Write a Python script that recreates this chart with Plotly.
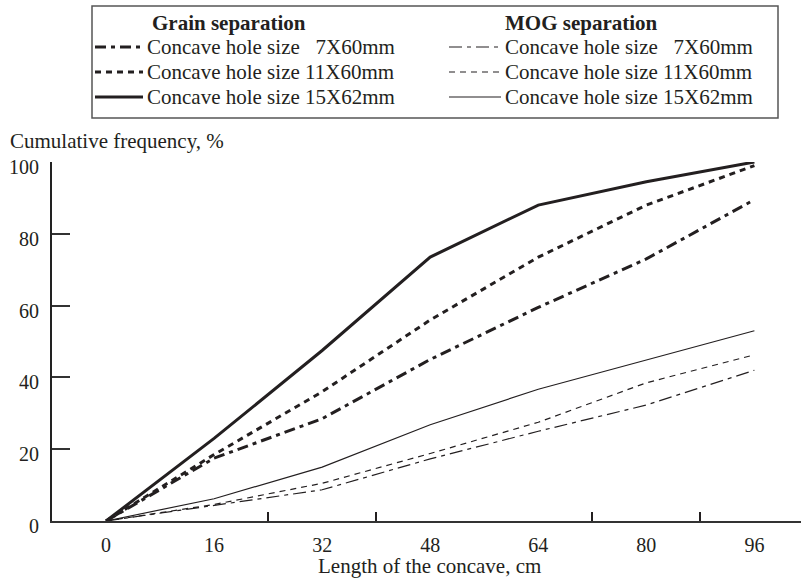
import plotly.graph_objects as go

# Length along the concave (cm) at which cumulative separation was measured
length_cm = [0, 16, 32, 48, 64, 80, 96]

# Cumulative frequency of grain separation, %
grain_7x60 = [0, 17.5, 28.5, 45.0, 59.5, 73.0, 89.5]
grain_11x60 = [0, 18.5, 36.0, 56.0, 73.5, 88.0, 99.0]
grain_15x62 = [0, 23.0, 47.5, 73.5, 88.0, 94.5, 100.0]

# Cumulative frequency of MOG separation, %
mog_7x60 = [0, 4.3, 8.7, 17.3, 25.0, 32.3, 42.0]
mog_11x60 = [0, 4.6, 10.5, 18.8, 27.5, 38.5, 46.3]
mog_15x62 = [0, 6.2, 15.0, 26.8, 36.7, 44.8, 53.0]

x_ticks = [0, 16, 32, 48, 64, 80, 96]
x_minor_ticks = [24, 40, 72, 88]
y_ticks = [0, 20, 40, 60, 80, 100]

hole_labels = ["Concave hole size\u00a0\u00a0\u00a07X60mm",
               "Concave hole size 11X60mm",
               "Concave hole size 15X62mm"]

INK = "#231f20"
FONT = "Liberation Serif"

W, H = 801, 579
ML, MR, MT, MB = 52, 0, 162, 58
PW, PH = W - ML - MR, H - MT - MB

grain_dash = ["11px,5px,4px,5px", "6px,5px", "solid"]
mog_dash = ["13px,5px,4px,5px", "6px,5px", "solid"]
grain_width, mog_width = 3.0, 1.2

fig = go.Figure()
for ys, dash in zip([grain_7x60, grain_11x60, grain_15x62], grain_dash):
    fig.add_trace(go.Scatter(x=length_cm, y=ys, mode="lines",
                             line=dict(color=INK, width=grain_width, dash=dash),
                             showlegend=False))
for ys, dash in zip([mog_7x60, mog_11x60, mog_15x62], mog_dash):
    fig.add_trace(go.Scatter(x=length_cm, y=ys, mode="lines",
                             line=dict(color=INK, width=mog_width, dash=dash),
                             showlegend=False))


def px_x(px):
    return (px - ML) / PW


def px_y(py):
    return (H - MB - py) / PH


shapes = []
annotations = []

# Legend frame
shapes.append(dict(type="rect", xref="paper", yref="paper",
                   x0=px_x(92), x1=px_x(778), y0=px_y(118), y1=px_y(6),
                   line=dict(color="#555555", width=1.5), fillcolor="rgba(0,0,0,0)"))

row_y = [47, 72, 97]
columns = [
    dict(title="<b>Grain separation</b>", title_x=150, s0=95, s1=143, tx=145,
         dashes=grain_dash, width=grain_width),
    dict(title="<b>MOG separation</b>", title_x=503, s0=449, s1=501, tx=503,
         dashes=mog_dash, width=mog_width),
]
for col in columns:
    annotations.append(dict(text=col["title"], xref="paper", yref="paper",
                            x=px_x(col["title_x"]), y=px_y(23), xanchor="left",
                            yanchor="middle", showarrow=False,
                            font=dict(family=FONT, size=21, color=INK)))
    for ry, dash, label in zip(row_y, col["dashes"], hole_labels):
        shapes.append(dict(type="line", xref="paper", yref="paper",
                           x0=px_x(col["s0"]), x1=px_x(col["s1"]),
                           y0=px_y(ry), y1=px_y(ry),
                           line=dict(color=INK, width=col["width"], dash=dash)))
        annotations.append(dict(text=label, xref="paper", yref="paper",
                                x=px_x(col["tx"]), y=px_y(ry), xanchor="left",
                                yanchor="middle", showarrow=False,
                                font=dict(family=FONT, size=21, color=INK)))

# Horizontal y-axis caption above the axis
annotations.append(dict(text="Cumulative frequency, %", xref="paper", yref="paper",
                        x=px_x(8), y=px_y(141), xanchor="left", yanchor="middle",
                        showarrow=False, font=dict(family=FONT, size=21, color=INK)))

# y tick labels sit slightly below their tick marks
for v in y_ticks:
    annotations.append(dict(text=str(v), xref="paper", yref="y",
                            x=px_x(41), y=v, xanchor="right", yanchor="middle",
                            yshift=-5, showarrow=False,
                            font=dict(family=FONT, size=20, color=INK)))

# x-axis caption
annotations.append(dict(text="Length of the concave, cm", xref="paper", yref="paper",
                        x=px_x(430), y=px_y(566), xanchor="center", yanchor="middle",
                        showarrow=False, font=dict(family=FONT, size=21, color=INK)))

fig.update_layout(
    width=W, height=H,
    margin=dict(l=ML, r=MR, t=MT, b=MB),
    paper_bgcolor="white", plot_bgcolor="white",
    font=dict(family=FONT, size=20, color=INK),
    shapes=shapes, annotations=annotations,
    showlegend=False,
)
fig.update_xaxes(
    range=[-8, 102.9], tickmode="array", tickvals=x_ticks,
    ticktext=[str(v) for v in x_ticks], ticks="",
    minor=dict(tickmode="array", tickvals=x_minor_ticks, ticks="inside",
               ticklen=9, tickwidth=1.5, tickcolor=INK),
    showline=True, linecolor="#333333", linewidth=1.5,
    showgrid=False, zeroline=False,
    ticklabelstandoff=5,
    tickfont=dict(family=FONT, size=20, color=INK),
)
fig.update_yaxes(
    range=[0, 100], tickmode="array", tickvals=y_ticks,
    ticks="inside", ticklen=18, tickwidth=1.5, tickcolor="#333333",
    showline=True, linecolor="#222222", linewidth=1.5,
    showgrid=False, zeroline=False, showticklabels=False,
)

fig.write_html("out.html")
